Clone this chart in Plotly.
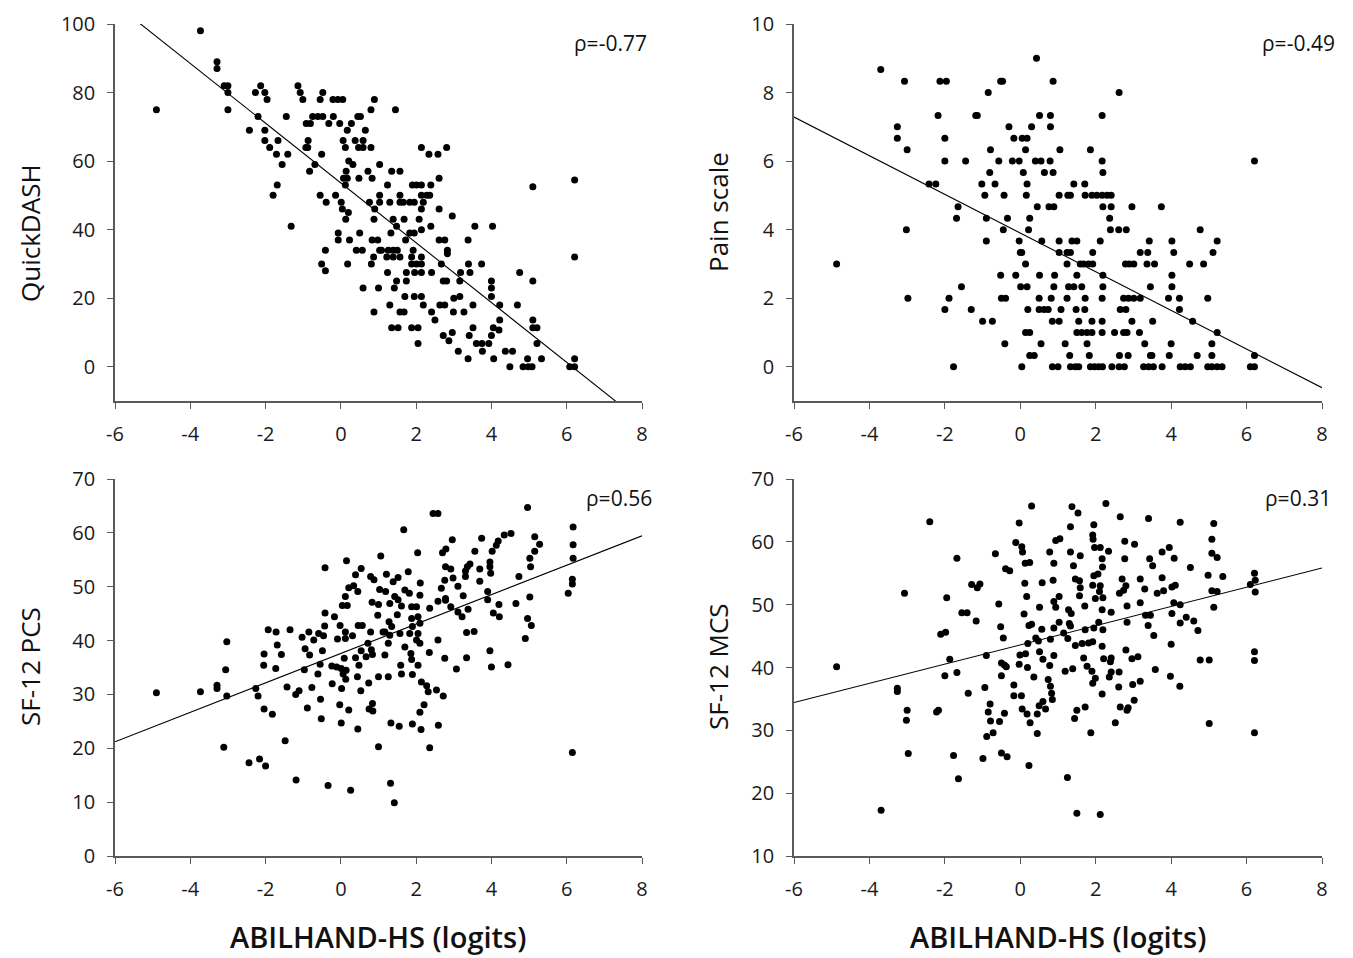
import plotly.graph_objects as go

W, H = 1353, 958
FONT = "Open Sans"

# ---------------- data ----------------
x_ticks = [-6, -4, -2, 0, 2, 4, 6, 8]
x_tick_text = ["-6", "-4", "-2", "0", "2", "4", "6", "8"]

# Panel 1: QuickDASH
qd_x = [-3.73, -4.9, -3.29, -3.29, -3.1, -3.0, -3.0, -3.0,
        -2.43, -2.27, -2.13, -2.02, -1.96, -2.2, -2.02, -2.02,
        -1.89, -1.67, -1.71, -1.56, -1.41, -1.45, -1.69, -1.8,
        -1.32, -1.14, -1.08, -1.01, -0.92, -0.81, -0.75, -0.61,
        -0.48, -0.55, -0.48, -0.87, -0.93, -0.88, -0.51, -0.69,
        -0.83, -0.32, -0.2, -0.21, -0.08, 0.05, -0.03, 0.17,
        0.28, 0.45, 0.52, 0.8, 0.89, 0.06, 0.12, 0.38, 0.59,
        0.47, 0.59, 0.8, 0.65, 0.21, 0.32, 0.14, 0.07, 0.17,
        0.48, 0.72, 0.83, 0.12, -0.14, -0.55, -0.39, 0.01,
        0.04, 0.2, 0.13, 0.76, 0.9, 0.88, 1.03, 1.03, 1.03,
        -0.07, -0.07, 0.23, 0.5, 0.41, 0.57, -0.41, -0.51,
        -0.41, 0.18, 0.83, 0.98, 1.03, 0.87, 0.81, 0.59, 1.0, 0.88,
        1.45, 2.14, 2.34, 2.58, 2.81, 1.35, 1.57, 2.61, 1.24,
        1.9, 2.01, 2.14, 2.39, 1.57, 2.14, 2.28, 2.36,
        1.3, 1.57, 1.66, 1.83, 1.95, 2.19, 2.14, 2.61, 2.96,
        1.39, 1.68, 2.08, 1.48, 2.14, 2.39, 3.56, 4.03,
        1.33, 1.83, 1.95, 1.72, 2.61, 2.76, 3.38,
        1.08, 1.26, 1.39, 1.5, 1.92, 2.83, 2.83,
        1.22, 1.39, 1.57, 1.88, 2.14,
        1.88, 2.01, 2.14, 2.67, 3.39, 3.74,
        1.24, 1.74, 1.96, 2.14, 2.41, 3.18, 3.43, 4.75,
        1.48, 1.74, 2.72, 2.81, 3.16, 4.0, 5.1,
        1.42, 1.7, 1.95, 2.14, 3.0, 3.16, 4.0, 4.0,
        1.3, 2.19, 2.63, 2.76, 3.51, 4.22, 4.69,
        1.57, 1.68, 2.41, 2.99, 3.27,
        2.5, 4.22, 5.1,
        1.35, 1.52, 1.88, 2.05, 3.51, 4.05, 4.2, 5.1, 5.21,
        2.05, 2.72, 2.87, 2.96, 3.12, 3.41, 3.6, 3.75, 3.93, 4.0, 3.76,
        3.38, 4.06, 4.37, 4.56, 5.21, 4.49, 4.84, 4.98, 5.08, 4.96, 5.33,
        6.21, 6.21, 6.21, 6.08, 6.21, 5.1]
qd_y = [98, 75, 89, 87, 82, 82, 80, 75,
        69, 80, 82, 80, 78, 73, 69, 66,
        64, 66, 62, 59, 62, 73, 53, 50,
        41, 82, 80, 78, 71, 71, 73, 73,
        73, 78, 80, 66, 64, 64, 62, 59,
        57, 71, 73, 78, 78, 78, 71, 69,
        71, 73, 73, 75, 78, 66, 64, 66, 66,
        64, 64, 64, 69, 60, 59, 57, 55, 55,
        55, 57, 55, 53, 50, 50, 48, 48,
        46, 45, 43, 48, 46, 43, 50, 48, 59,
        39, 37, 37, 39, 34, 34, 34, 30,
        28, 30, 37, 37, 34, 32, 30, 23, 23, 16,
        75, 64, 62, 62, 64, 57, 57, 55, 53,
        53, 53, 53, 53, 50, 50, 50, 50,
        48, 48, 48, 48, 48, 48, 46, 46, 44,
        43, 43, 43, 41, 40, 41, 41, 41,
        39, 39, 39, 37, 37, 37, 37,
        34, 34, 34, 34, 34, 34, 33,
        32, 32, 32, 32, 32,
        30, 30, 30, 30, 30, 30,
        27.5, 27.5, 27.5, 27.5, 27.5, 27.5, 27.5, 27.5,
        25, 25, 25, 25, 25, 25, 25,
        23, 20.5, 20.5, 20.5, 20, 20.5, 23, 20.5,
        18, 18, 18, 18, 18, 18, 18,
        16, 16, 16, 16, 16,
        13.6, 13.6, 13.6,
        11.4, 11.4, 11.4, 11.4, 11.4, 11.4, 10.7, 11.4, 11.4,
        6.8, 9.1, 7.6, 10, 4.5, 9.1, 6.8, 6.8, 6.8, 9.1, 4.5,
        2.3, 2.3, 4.5, 4.5, 6.8, 0, 0, 0, 0, 2.3, 2.3,
        54.5, 32, 2.3, 0, 0, 52.5]
qd_fit = (53.6, -8.72)  # intercept, slope

# Panel 2: Pain scale
pain_x = [0.43,
          -3.7,
          -3.07, -2.13, -1.96, -0.52, -0.47, 0.87,
          -0.85, 2.62,
          -2.18, -1.18, -1.14, 0.51, 0.8, 2.17,
          -3.26, -0.3, 0.3, 0.8,
          -3.26, -2.0, -0.17, 0.05, 0.18,
          -3.0, -0.79, 0.14, 1.05, 1.86,
          -2.0, -1.45, -0.57, -0.21, -0.03, 0.4, 0.55, 0.79, 2.17, 6.21,
          -0.81, 0.08, 0.64, 0.87, 2.19,
          -2.42, -2.24, -1.02, -0.67, 0.18, 1.42, 1.71,
          -0.94, -0.43, 0.16, 1.03, 1.26, 1.33, 1.72, 1.9, 2.03, 2.17, 2.3, 2.41,
          -1.65, 0.45, 0.76, 0.89, 2.19, 2.41, 2.96, 3.74,
          -1.69, -0.9, -0.34, 0.25, 2.37,
          -3.02, -0.45, 0.22, 2.39, 2.61, 2.81, 4.77,
          -0.9, -0.03, 0.57, 1.03, 1.37, 1.5, 2.12, 3.42, 4.02, 5.22,
          0.0, 0.04, 1.03, 1.24, 1.33, 1.92, 3.18, 3.38, 4.07, 5.11,
          -4.87, 0.14, 1.24, 1.59, 1.68, 1.81, 1.92, 2.79, 2.89, 3.01, 3.36, 3.56, 4.49, 4.86,
          -0.52, -0.12, 0.51, 0.91, 1.5, 2.19, 4.02,
          -1.56, 0.01, 0.18, 0.89, 1.28, 1.42, 1.63, 2.19, 3.45, 4.02,
          -2.98, -1.89, -0.5, -0.39, 0.5, 0.82, 1.24, 1.72, 2.17, 2.74, 2.87, 3.01, 3.18, 3.93, 4.22, 4.97,
          -2.0, -1.3, 0.2, 0.5, 0.63, 0.74, 1.08, 1.48, 1.71, 2.65, 2.8, 4.22,
          -1.0, -0.74, 0.85, 1.03, 1.55, 1.9, 2.17, 2.96, 3.51, 4.57,
          0.14, 0.25, 1.5, 1.63, 1.77, 1.9, 2.17, 2.5, 2.74, 2.83, 3.16, 5.22,
          -0.41, 0.55, 1.19, 1.77, 3.3, 4.0, 5.08,
          0.25, 0.37, 1.31, 1.83, 2.63, 2.86, 3.45, 3.49, 3.95, 4.69, 5.08, 6.21,
          -1.77, 0.04, 0.85, 1.0, 1.33, 1.46, 1.55, 1.86, 1.97, 2.08, 2.18, 2.43, 2.62, 2.76,
          3.27, 3.4, 3.53, 3.76, 4.24, 4.37, 4.51, 4.97, 5.08, 5.22, 5.35, 6.1, 6.21]
pain_y = [9.0,
          8.67,
          8.33, 8.33, 8.33, 8.33, 8.33, 8.33,
          8.0, 8.0,
          7.33, 7.33, 7.33, 7.33, 7.33, 7.33,
          7.0, 7.0, 7.0, 7.0,
          6.67, 6.67, 6.67, 6.67, 6.67,
          6.33, 6.33, 6.33, 6.33, 6.33,
          6.0, 6.0, 6.0, 6.0, 6.0, 6.0, 6.0, 6.0, 6.0, 6.0,
          5.67, 5.67, 5.67, 5.67, 5.67,
          5.33, 5.33, 5.33, 5.33, 5.33, 5.33, 5.33,
          5.0, 5.0, 5.0, 5.0, 5.0, 5.0, 5.0, 5.0, 5.0, 5.0, 5.0, 5.0,
          4.67, 4.67, 4.67, 4.67, 4.67, 4.67, 4.67, 4.67,
          4.33, 4.33, 4.33, 4.33, 4.33,
          4.0, 4.0, 4.0, 4.0, 4.0, 4.0, 4.0,
          3.67, 3.67, 3.67, 3.67, 3.67, 3.67, 3.67, 3.67, 3.67, 3.67,
          3.33, 3.33, 3.33, 3.33, 3.33, 3.33, 3.33, 3.33, 3.33, 3.33,
          3.0, 3.0, 3.0, 3.0, 3.0, 3.0, 3.0, 3.0, 3.0, 3.0, 3.0, 3.0, 3.0, 3.0,
          2.67, 2.67, 2.67, 2.67, 2.67, 2.67, 2.67,
          2.33, 2.33, 2.33, 2.33, 2.33, 2.33, 2.33, 2.33, 2.33, 2.33,
          2.0, 2.0, 2.0, 2.0, 2.0, 2.0, 2.0, 2.0, 2.0, 2.0, 2.0, 2.0, 2.0, 2.0, 2.0, 2.0,
          1.67, 1.67, 1.67, 1.67, 1.67, 1.67, 1.67, 1.67, 1.67, 1.67, 1.67, 1.67,
          1.33, 1.33, 1.33, 1.33, 1.33, 1.33, 1.33, 1.33, 1.33, 1.33,
          1.0, 1.0, 1.0, 1.0, 1.0, 1.0, 1.0, 1.0, 1.0, 1.0, 1.0, 1.0,
          0.67, 0.67, 0.67, 0.67, 0.67, 0.67, 0.67,
          0.33, 0.33, 0.33, 0.33, 0.33, 0.33, 0.33, 0.33, 0.33, 0.33, 0.33, 0.33,
          0, 0, 0, 0, 0, 0, 0, 0, 0, 0, 0, 0, 0, 0,
          0, 0, 0, 0, 0, 0, 0, 0, 0, 0, 0, 0, 0]
pain_fit = (3.9, -0.564)

# Panel 3: SF-12 PCS
pcs_x = [-4.9, -3.73, -3.29, -3.29, -3.03, -3.06, -3.03, -3.11,
         -2.44, -2.16, -2.0, -2.26, -2.2, -2.04, -1.82,
         -1.93, -1.72, -2.04, -1.69, -1.58, -2.05, -1.73,
         -1.48, -1.43, -1.2, -1.11, -1.35, -1.03, -0.85,
         -0.72, -0.59, -0.46, -0.95, -0.83, -0.97, -0.49,
         -0.55, -0.61, -0.77, -0.89, -0.54, -0.52, -1.19,
         -0.34, 0.26, -0.42, -0.42, -0.43, -0.17, 0.15,
         0.39, 0.54, 0.45, 0.21, 0.34, 0.12, 0.04, 0.17,
         0.79, 0.88, 1.03, 0.83, 1.0, 0.98, -0.02, 0.12,
         0.12, -0.09, 0.31, 0.46, 0.57, 0.79, 1.12, 0.72,
         0.81, 0.54, 0.84, 0.39, 0.48, 0.67, 0.09, -0.24,
         -0.11, 0.01, 0.14, 0.06, 0.13, -0.23, 0.44, 1.0,
         0.74, 0.02, 0.53, -0.03, 0.21, 0.84, 0.75, 0.85,
         0.01, 0.45, 1.0, 1.06,
         4.96, 2.45, 2.58, 1.67, 6.17, 6.17, 6.17, 6.15, 6.15, 6.04, 6.15,
         5.15, 5.28, 5.15, 5.02, 5.04,
         4.34, 4.52, 4.18, 4.13, 4.02, 3.96, 3.96, 3.98,
         3.74, 3.56, 3.43, 3.36, 3.31, 3.31, 3.69, 3.69,
         2.96, 2.79, 2.7, 2.78, 2.92, 2.98, 2.76, 2.67, 2.78,
         3.11, 3.25, 4.73, 3.9, 3.9, 4.2, 4.05, 4.21, 4.65,
         5.02, 4.96, 5.06, 4.9, 3.38, 3.22, 3.11, 2.92,
         2.58, 2.78, 2.36, 2.11, 2.1, 2.04, 1.79,
         1.21, 1.39, 1.52, 1.19, 1.7, 1.82, 1.43, 1.52,
         1.61, 1.5, 1.3, 1.88, 2.01, 2.05, 2.1, 1.88,
         1.9, 1.83, 2.05, 2.01, 2.1, 1.28, 1.35, 1.17,
         1.3, 1.26, 1.57, 1.7, 1.86, 1.88, 2.05, 2.35,
         2.58, 2.76, 3.34, 3.54, 3.34, 3.07, 3.96, 4.0,
         4.44, 1.17, 1.59, 1.61, 1.9, 1.26, 2.14, 2.28,
         2.32, 2.54, 2.72, 2.21, 2.1, 1.33, 1.55, 1.9,
         2.13, 2.59, 2.36, 1.32, 1.42]
pcs_y = [30.3, 30.5, 31.7, 31.1, 39.8, 34.6, 29.7, 20.2,
         17.3, 18.0, 16.7, 31.1, 29.7, 27.3, 26.3,
         42.0, 41.6, 37.5, 39.2, 37.4, 35.4, 34.8,
         21.4, 31.4, 30.0, 30.7, 42.0, 40.6, 41.6,
         40.1, 41.3, 40.9, 38.5, 37.3, 34.6, 38.1,
         35.6, 33.8, 31.3, 27.5, 29.1, 25.5, 14.1,
         13.1, 12.2, 53.5, 45.1, 42.7, 44.4, 54.8,
         52.2, 53.4, 49.1, 49.8, 50.2, 48.2, 46.5, 46.5,
         51.9, 51.3, 49.5, 47.1, 46.7, 44.7, 42.8, 41.6,
         40.4, 40.3, 40.9, 42.8, 42.8, 41.6, 41.6, 39.5,
         38.3, 38.1, 37.4, 36.8, 35.4, 37.0, 36.7, 35.3,
         35.1, 34.8, 34.5, 33.8, 32.8, 32.0, 33.3, 33.3,
         32.1, 31.1, 30.7, 28.1, 27.1, 28.3, 27.3, 26.9,
         24.7, 23.6, 20.3, 55.7,
         64.7, 63.6, 63.6, 60.6, 61.1, 57.8, 55.3, 51.4, 50.5, 48.8, 19.2,
         59.3, 57.9, 56.6, 55.3, 53.7,
         59.6, 59.9, 58.5, 57.7, 56.6, 54.6, 53.7, 52.5,
         59.0, 56.6, 54.2, 53.7, 52.9, 51.9, 53.3, 51.0,
         58.7, 57.0, 56.3, 53.7, 53.3, 51.6, 51.2, 49.7, 47.8,
         50.1, 48.3, 51.9, 49.1, 47.6, 46.7, 45.1, 44.4, 46.9,
         48.1, 44.1, 42.8, 40.4, 45.8, 44.4, 45.3, 46.3,
         47.3, 47.5, 46.0, 50.7, 48.4, 56.3, 52.8,
         52.3, 50.9, 51.7, 49.1, 49.4, 48.8, 48.2, 47.6,
         46.4, 44.8, 46.9, 46.3, 46.3, 44.4, 43.2, 44.1,
         42.6, 41.3, 41.3, 40.1, 39.5, 43.5, 42.6, 41.6,
         41.0, 39.5, 41.3, 38.8, 37.6, 36.5, 35.4, 37.8,
         40.1, 36.7, 41.5, 41.7, 36.8, 34.7, 38.1, 35.1,
         35.5, 37.3, 35.4, 33.8, 33.7, 33.3, 32.3, 31.6,
         30.5, 30.8, 29.7, 28.1, 26.7, 24.7, 24.1, 24.5,
         23.5, 24.3, 20.1, 13.5, 9.9]
pcs_fit = (37.6, 2.73)

# Panel 4: SF-12 MCS
mcs_x = [-4.87, -3.69, -3.07, -3.26, -3.26, -3.0, -3.02, -2.97,
         -2.4, -2.22, -2.17, -2.11, -1.98, -1.95, -1.87, -2.0,
         -1.68, -1.68, -1.77, -1.64, -1.55, -1.41, -1.29, -1.07,
         -1.14, -1.17, -1.38, -0.9, -0.94, -0.8, -0.85, -0.79,
         -0.89, -0.72, -0.99, -0.66, -0.57, -0.52, -0.45, -0.42,
         -0.5, -0.37, -0.5, -0.42, -0.55, -0.5, -0.35, -0.39,
         -0.28, -0.03, -0.12, 0.04, 0.06, 0.3, 0.13, 0.25,
         0.12, 0.17, 0.1, 0.23, 0.3, 0.2, -0.01, 0.14,
         -0.03, 0.19, -0.17, 0.36, -0.17, 0.03, 0.05, 0.18,
         0.26, 0.45, 0.23, 0.58, 0.51, 0.57, 0.41, 0.48,
         0.51, 0.6, 0.78, 0.89, 0.87, 0.94, 1.05, 0.89,
         1.03, 0.94, 0.89, 1.03, 0.8, 0.89, 0.78, 0.74,
         0.8, 0.83, 0.85, 0.6, 0.5, 0.45, 0.67,
         2.27, 1.37, 1.53, 1.33, 1.95, 1.92, 1.93, 1.97, 2.12, 2.34,
         2.65, 3.4, 4.24, 5.13, 5.08, 5.08, 5.22, 4.98, 5.37,
         6.21, 6.23, 6.1, 6.23, 2.77, 3.03, 2.77, 2.17, 2.18,
         2.06, 1.95, 1.33, 1.59, 1.41, 3.43, 3.51, 3.76, 3.95,
         4.08, 4.51, 3.76, 3.18, 2.7, 1.46, 1.57, 1.59, 1.92,
         2.12, 2.1, 2.8, 2.74, 2.63, 3.3, 3.63, 3.8, 4.02,
         4.11, 5.08, 5.22, 5.13, 1.57, 1.99, 2.19, 1.71, 1.28,
         1.35, 2.17, 2.41, 2.83, 3.18, 3.32, 3.45, 3.39, 4.07,
         4.24, 4.02, 4.4, 4.6, 4.24, 4.71, 2.83, 2.08, 2.19,
         1.95, 1.72, 1.3, 1.33, 1.15, 1.26, 1.46, 1.64, 1.81,
         1.92, 2.17, 3.54, 4.0, 2.8, 2.96, 3.12, 1.68, 2.21,
         2.41, 2.39, 4.77, 5.01, 6.21, 6.21, 1.19, 1.39, 1.77,
         1.9, 1.99, 1.92, 2.41, 2.62, 2.36, 2.61, 2.98, 3.18,
         3.58, 3.98, 4.23, 2.17, 3.02, 2.86, 2.65, 2.83, 1.5,
         1.44, 1.72, 2.52, 1.87, 5.01, 6.21, 1.25, 1.5, 2.12]
mcs_y = [40.1, 17.3, 51.8, 36.7, 36.2, 33.2, 31.6, 26.3,
         63.2, 32.9, 33.2, 45.3, 45.6, 51.1, 41.3, 38.7,
         39.2, 57.4, 26.0, 22.3, 48.7, 48.7, 53.2, 53.3,
         52.7, 47.4, 35.9, 41.9, 36.8, 34.2, 32.9, 31.5,
         29.0, 29.6, 25.5, 58.1, 50.1, 46.5, 44.7, 40.4,
         40.7, 40.1, 38.7, 32.7, 31.4, 26.4, 25.8, 55.7,
         55.4, 63.0, 59.9, 59.2, 58.4, 65.7, 56.6, 56.7,
         53.4, 51.3, 48.5, 46.7, 46.9, 43.8, 42.0, 42.2,
         40.5, 40.0, 37.2, 38.5, 35.5, 35.5, 33.4, 32.6,
         31.2, 29.5, 24.4, 53.5, 49.6, 46.1, 44.7, 44.2,
         42.5, 41.3, 58.4, 56.6, 53.9, 60.2, 60.5, 50.5,
         51.3, 49.6, 46.3, 47.2, 44.5, 41.9, 40.3, 38.1,
         37.0, 35.9, 34.9, 34.6, 33.9, 32.6, 33.4,
         66.1, 65.6, 64.6, 62.4, 62.7, 61.1, 60.4, 59.1, 59.1, 58.5,
         64.0, 63.7, 63.1, 62.9, 60.4, 58.2, 57.5, 54.7, 54.5,
         55.0, 53.9, 53.2, 52.0, 60.1, 59.6, 57.3, 57.3, 56.0,
         54.9, 54.6, 58.4, 57.8, 56.2, 57.3, 56.2, 58.4, 59.1,
         57.4, 55.9, 54.3, 54.1, 54.1, 54.1, 53.8, 52.7, 53.1,
         53.0, 52.1, 53.0, 52.3, 51.8, 52.5, 51.8, 52.2, 52.8,
         53.1, 52.2, 52.1, 49.6, 51.4, 51.0, 51.1, 49.8, 49.2,
         48.6, 49.2, 48.8, 49.8, 50.3, 48.3, 48.3, 46.7, 50.3,
         50.0, 48.6, 48.0, 47.4, 47.1, 45.9, 47.2, 47.2, 46.0,
         46.3, 46.0, 47.0, 46.6, 45.5, 44.6, 43.5, 43.8, 43.9,
         44.1, 43.4, 45.1, 43.7, 42.8, 41.4, 41.7, 41.5, 41.4,
         41.5, 40.9, 41.2, 41.2, 42.5, 41.1, 39.4, 39.8, 40.2,
         39.4, 38.3, 37.5, 39.3, 39.3, 38.5, 36.9, 37.3, 37.8,
         39.7, 38.6, 37.0, 35.8, 34.8, 33.6, 33.7, 33.2, 33.2,
         31.9, 33.7, 31.2, 29.6, 31.1, 29.6, 22.5, 16.8, 16.6]
mcs_fit = (43.6, 1.53)

panel_titles = ["QuickDASH", "Pain scale", "SF-12 PCS", "SF-12 MCS"]
rho_labels = ["\u03c1=-0.77", "\u03c1=-0.49", "\u03c1=0.56", "\u03c1=0.31"]
y_ranges = [[-10, 100], [-1, 10], [0, 70], [10, 70]]
y_dticks = [20, 2, 10, 10]
x_title = "ABILHAND-HS (logits)"
x_range = [-6, 8]

# ---------------- layout geometry (pixels) ----------------
col_px = [(115, 642), (794, 1322)]
row_px = [(24, 401), (479, 856)]

def xd(a, b):
    return [a / W, b / W]

def yd(top, bot):
    return [1 - bot / H, 1 - top / H]

panels = [
    (qd_x, qd_y, qd_fit, 0, 0),
    (pain_x, pain_y, pain_fit, 0, 1),
    (pcs_x, pcs_y, pcs_fit, 1, 0),
    (mcs_x, mcs_y, mcs_fit, 1, 1),
]

fig = go.Figure()
layout = dict(
    width=W, height=H,
    margin=dict(l=0, r=0, t=0, b=0, pad=0, autoexpand=False),
    paper_bgcolor="white", plot_bgcolor="white",
    showlegend=False,
    font=dict(family=FONT, color="#111"),
)
annotations = []

AX = dict(showline=True, linecolor="#595959", linewidth=1.6, ticks="outside",
          ticklen=6, tickwidth=1.2, tickcolor="#595959", showgrid=False,
          zeroline=False, automargin=False,
          tickfont=dict(family=FONT, size=20, color="#1a1a1a"))

ytitle_cy = [233, 212, 667, 667]
ytitle_cx = [30, 718, 30, 718]
rho_pos = [(610, 43), (1298, 43), (619, 498), (1298, 498)]

for i, (px, py, fit, r, c) in enumerate(panels):
    n = i + 1
    xa = "x" if n == 1 else f"x{n}"
    ya = "y" if n == 1 else f"y{n}"
    fig.add_trace(go.Scatter(x=px, y=py, mode="markers", xaxis=xa, yaxis=ya,
                             marker=dict(size=7, color="black"),
                             hoverinfo="skip"))
    b0, b1 = fit
    lx = [x_range[0], x_range[1]]
    ly = [b0 + b1 * v for v in lx]
    fig.add_trace(go.Scatter(x=lx, y=ly, mode="lines", xaxis=xa, yaxis=ya,
                             line=dict(color="black", width=1.1),
                             hoverinfo="skip"))
    (cx0, cx1) = col_px[c]
    (ry0, ry1) = row_px[r]
    xkey = "xaxis" if n == 1 else f"xaxis{n}"
    ykey = "yaxis" if n == 1 else f"yaxis{n}"
    layout[xkey] = dict(AX, domain=xd(cx0, cx1), range=x_range,
                        tickvals=x_ticks, ticktext=x_tick_text, anchor=ya,
                        ticklabelstandoff=8)
    layout[ykey] = dict(AX, domain=yd(ry0, ry1), range=y_ranges[i],
                        tick0=0, dtick=y_dticks[i], anchor=xa,
                        ticklabelstandoff=8)
    annotations.append(dict(text=panel_titles[i], xref="paper", yref="paper",
                            x=ytitle_cx[i] / W, y=1 - ytitle_cy[i] / H,
                            xanchor="center", yanchor="middle", textangle=-90,
                            showarrow=False,
                            font=dict(family=FONT, size=26, color="#111")))
    rx, ry = rho_pos[i]
    annotations.append(dict(text=rho_labels[i], xref="paper", yref="paper",
                            x=rx / W, y=1 - ry / H, xanchor="center",
                            yanchor="middle", showarrow=False,
                            font=dict(family=FONT, size=21, color="#111")))

for c in range(2):
    cx0, cx1 = col_px[c]
    annotations.append(dict(text=x_title, xref="paper", yref="paper",
                            x=(cx0 + cx1) / 2 / W, y=1 - 936 / H,
                            xanchor="center", yanchor="middle", showarrow=False,
                            borderpad=0,
                            font=dict(family=FONT, size=29, color="#111",
                                      weight=600)))

layout["annotations"] = annotations
fig.update_layout(**layout)
# remove the browser's default 8px body margin so the figure fills the window
fig.write_html("out.html",
               config={"displayModeBar": False},
               post_script="document.body.style.margin='0';")
